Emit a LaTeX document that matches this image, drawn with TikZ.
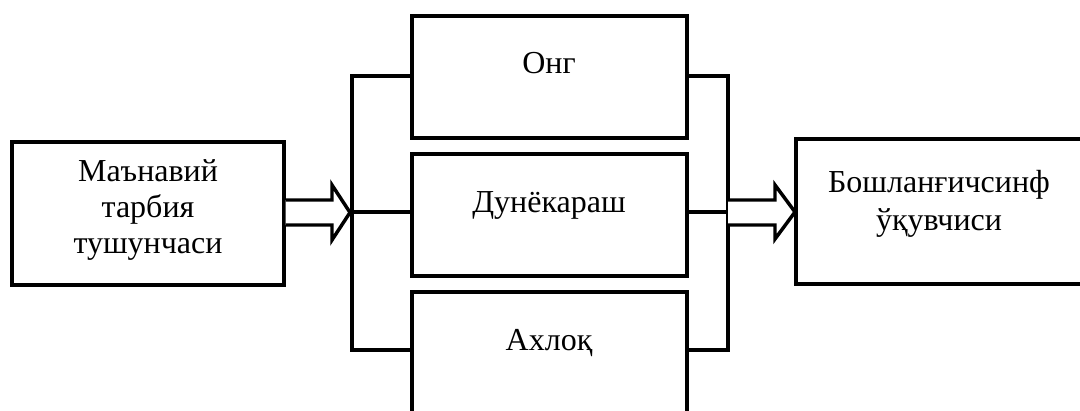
\documentclass[tikz,border=0pt]{standalone}
\usepackage{fontspec}
\setmainfont{Liberation Serif}
\begin{document}
\begin{tikzpicture}[x=0.75pt,y=-0.75pt,
  box/.style={draw,line width=2.6pt,minimum width=#1,inner sep=0pt},
  conn/.style={line width=2.6pt,line join=miter},
  hollow/.style={line width=2.6pt,line join=miter,fill=white},
  lbl/.style={font=\fontsize{24}{26.7}\selectfont,inner sep=0pt,anchor=base,align=center}]
\clip (0,0) rectangle (1080,410);
\fill[white] (0,0) rectangle (1080,410);
% boxes
\node[box=204pt,minimum height=107.25pt] (left) at (148,213.5) {};
\node[box=206.25pt,minimum height=91.5pt] (top) at (549.5,77) {};
\node[box=206.25pt,minimum height=91.5pt] (mid) at (549.5,215) {};
\node[box=206.25pt,minimum height=91.5pt] (bot) at (549.5,353) {};
\node[box=220.5pt,minimum height=108.75pt] (right) at (943,211.5) {};
% labels
\node[lbl] (tleft) at (148,253) {Маънавий\\тарбия\\тушунчаси};
\node[lbl] (ttop) at (549,74) {Онг};
\node[lbl] (tmid) at (549,212) {Дунёкараш};
\node[lbl] (tbot) at (549,350) {Ахлоқ};
\node[lbl,font=\fontsize{24}{28}\selectfont] (tright) at (939,230) {Бошланғичсинф\\ўқувчиси};
% bars
\coordinate (L1) at (352,76);
\coordinate (L2) at (352,212);
\coordinate (L3) at (352,350);
\coordinate (R1) at (728,76);
\coordinate (R2) at (728,212);
\coordinate (R3) at (728,350);
\draw[conn] (top.west |- L1) -- (L1) -- (L3) -- (bot.west |- L3);
\draw[conn] (L2) -- (mid.west |- L2);
\draw[conn] (top.east |- R1) -- (R1) -- (R3) -- (bot.east |- R3);
\draw[conn] (mid.east |- R2) -- (R2);
% hollow arrows
\draw[hollow] (left.east |- 0,200) -- (332,200) -- (332,185) -- (350,212.5) -- (332,240) -- (332,225) -- (left.east |- 0,225);
\draw[hollow] (R2 |- 0,200) -- (775,200) -- (775,185) -- (795,212) -- (775,239) -- (775,225) -- (R2 |- 0,225);
\end{tikzpicture}
\end{document}
